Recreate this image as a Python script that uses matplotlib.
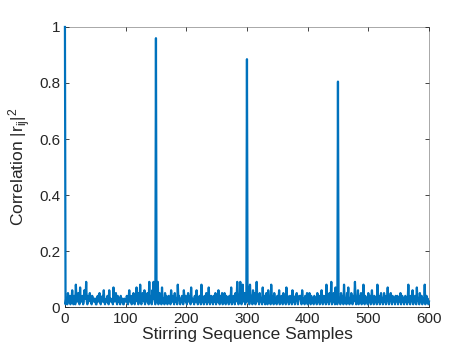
import matplotlib

matplotlib.use("Agg")

import matplotlib.pyplot as plt
import numpy as np

# noise floor of |r_ij|^2 in hundredths, samples 1..600 (spike samples overwritten below)
NOISE_HUNDREDTHS = [
    1, 3, 2, 1, 5, 2, 2, 4, 1, 2, 3, 6, 2, 1, 4, 3, 1, 8, 3, 2,
    2, 5, 2, 1, 7, 2, 3, 2, 4, 1, 2, 6, 3, 3, 9, 2, 1, 4, 2, 3,
    5, 3, 2, 1, 4, 2, 2, 3, 2, 3, 1, 1, 3, 4, 2, 2, 5, 2, 1, 3,
    2, 4, 2, 6, 2, 1, 2, 3, 2, 4, 3, 1, 6, 2, 3, 2, 2, 3, 1, 7,
    2, 2, 3, 5, 2, 1, 4, 2, 2, 3, 1, 4, 2, 2, 3, 1, 1, 3, 2, 2,
    2, 4, 2, 1, 3, 6, 2, 2, 4, 1, 3, 2, 5, 2, 1, 4, 3, 7, 2, 3,
    1, 5, 2, 8, 2, 1, 3, 5, 3, 2, 6, 1, 4, 3, 2, 5, 3, 1, 9, 2,
    2, 4, 1, 6, 3, 9, 3, 2, 1, 0, 2, 3, 9, 1, 2, 5, 2, 4, 1, 7,
    2, 2, 3, 1, 5, 2, 4, 2, 1, 3, 4, 2, 2, 1, 6, 3, 2, 4, 2, 1,
    5, 2, 2, 3, 1, 8, 3, 4, 2, 1, 3, 2, 4, 2, 1, 6, 3, 2, 4, 2,
    1, 3, 5, 2, 2, 4, 1, 7, 2, 2, 3, 2, 1, 4, 2, 2, 6, 3, 1, 3,
    2, 4, 3, 1, 8, 2, 3, 2, 1, 4, 2, 2, 5, 1, 3, 2, 7, 2, 1, 2,
    4, 2, 3, 1, 4, 2, 2, 5, 1, 2, 2, 3, 6, 3, 1, 4, 2, 3, 5, 1,
    3, 2, 5, 2, 1, 4, 3, 2, 3, 1, 4, 2, 2, 7, 1, 3, 2, 4, 3, 1,
    5, 2, 3, 9, 3, 1, 4, 2, 9, 3, 1, 3, 8, 2, 2, 5, 1, 3, 2, 0,
    2, 7, 2, 1, 8, 3, 2, 4, 1, 6, 3, 2, 5, 1, 3, 9, 3, 2, 4, 1,
    5, 3, 2, 3, 1, 7, 2, 2, 4, 1, 3, 5, 2, 1, 6, 3, 2, 3, 1, 8,
    3, 2, 4, 1, 5, 3, 3, 2, 1, 4, 3, 2, 6, 1, 3, 3, 4, 2, 1, 5,
    2, 3, 2, 1, 7, 2, 4, 3, 1, 3, 4, 2, 2, 1, 6, 3, 2, 3, 1, 4,
    3, 5, 2, 1, 3, 4, 3, 4, 2, 1, 6, 3, 2, 3, 1, 4, 3, 2, 5, 1,
    3, 2, 5, 3, 1, 4, 2, 3, 2, 1, 4, 3, 2, 3, 1, 5, 3, 2, 4, 1,
    3, 3, 6, 2, 1, 4, 3, 2, 4, 1, 8, 3, 2, 3, 1, 5, 2, 3, 9, 1,
    3, 2, 5, 3, 1, 7, 2, 2, 1, 0, 2, 3, 2, 1, 5, 2, 4, 3, 1, 8,
    3, 2, 3, 1, 5, 3, 7, 2, 1, 3, 2, 5, 3, 1, 4, 2, 3, 9, 3, 1,
    3, 2, 6, 1, 3, 4, 2, 5, 1, 3, 3, 8, 2, 1, 4, 3, 2, 3, 1, 5,
    2, 3, 4, 1, 3, 6, 2, 3, 1, 4, 3, 2, 3, 1, 8, 3, 2, 4, 1, 3,
    5, 2, 3, 1, 3, 5, 2, 4, 1, 3, 3, 7, 2, 1, 3, 3, 5, 2, 1, 4,
    3, 2, 3, 1, 4, 3, 2, 4, 1, 3, 3, 2, 5, 1, 3, 4, 2, 3, 1, 3,
    4, 2, 3, 1, 3, 8, 2, 3, 1, 4, 3, 2, 6, 1, 3, 3, 4, 2, 1, 7,
    3, 2, 3, 1, 5, 3, 2, 4, 1, 3, 3, 2, 8, 1, 3, 4, 2, 3, 1, 2,
]
SPIKE_SAMPLES = [0, 150, 300, 450]
SPIKE_VALUES = [1.0, 0.96, 0.885, 0.805]
X_TICKS = [0, 100, 200, 300, 400, 500, 600]
Y_TICKS = [0, 0.2, 0.4, 0.6, 0.8, 1.0]
Y_TICK_LABELS = ["0", "0.2", "0.4", "0.6", "0.8", "1"]

C_LINE = "#0072BD"
C_AX = "#262626"

corr = np.concatenate([[0.0], np.array(NOISE_HUNDREDTHS) / 100.0])
corr[SPIKE_SAMPLES] = SPIKE_VALUES
samples = np.arange(len(corr))

plt.rcParams["font.family"] = ["Liberation Sans", "DejaVu Sans"]
plt.rcParams["mathtext.fontset"] = "custom"
plt.rcParams["mathtext.rm"] = "Liberation Sans"
plt.rcParams["mathtext.it"] = "Liberation Sans"

fig = plt.figure(figsize=(4.74, 3.55), dpi=100)
ax = fig.add_axes([0.137, 0.135, 0.768, 0.789])
ax.plot(samples, corr, color=C_LINE, lw=1.6, zorder=5, clip_on=False)

ax.set_xlim(0, 600)
ax.set_ylim(0, 1)
ax.set_xticks(X_TICKS)
ax.set_yticks(Y_TICKS)
ax.set_yticklabels(Y_TICK_LABELS)
ax.tick_params(direction="in", length=3, width=0.6, colors=C_AX, labelsize=11,
               top=True, right=True)
for side in ax.spines.values():
    side.set_color(C_AX)
    side.set_linewidth(0.6)
    side.set_zorder(1)
for side in ("top", "right"):
    ax.spines[side].set_color("#9a9a9a")

ax.set_xlabel("Stirring Sequence Samples", fontsize=12.5, color=C_AX, labelpad=1)
ax.set_ylabel(r"Correlation $|r_{ij}|^2$", fontsize=12.5, color=C_AX, labelpad=4)

fig.savefig("out.png", dpi=100, facecolor="white")
